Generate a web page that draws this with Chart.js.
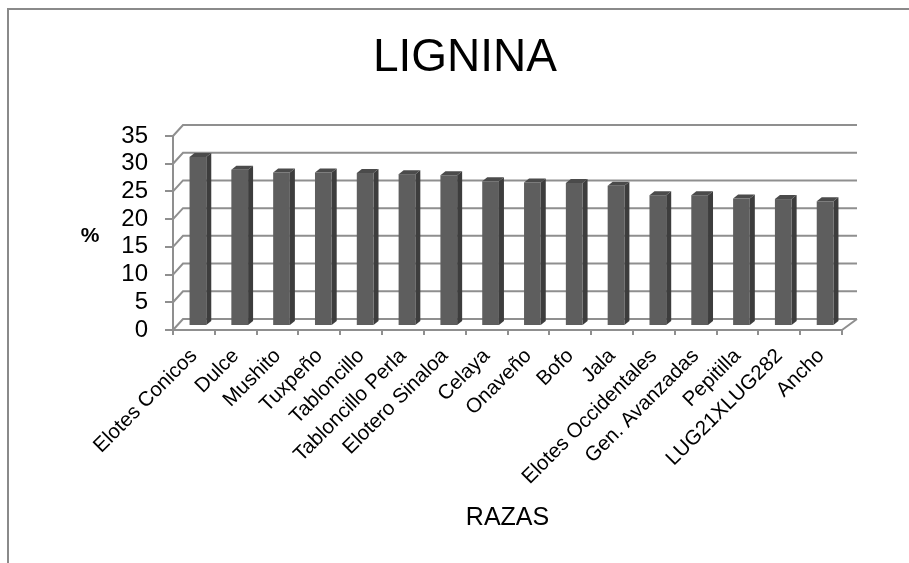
<!DOCTYPE html>
<html>
<head>
<meta charset="utf-8">
<script src="https://cdn.jsdelivr.net/npm/chart.js@4"></script>
<style>
  html, body { margin: 0; padding: 0; background: #fff; }
</style>
</head>
<body>
<canvas id="lignina" width="909" height="563"></canvas>
<script>
const razas = ["Elotes Conicos", "Dulce", "Mushito", "Tuxpeño", "Tabloncillo", "Tabloncillo Perla",
  "Elotero Sinaloa", "Celaya", "Onaveño", "Bofo", "Jala", "Elotes Occidentales",
  "Gen. Avanzadas", "Pepitilla", "LUG21XLUG282", "Ancho"];
const lignina = [30.5, 28.2, 27.7, 27.7, 27.6, 27.4, 27.2, 26.1, 25.9, 25.8, 25.3, 23.6, 23.6, 23.0, 22.9, 22.5];
const yTicks = [0, 5, 10, 15, 20, 25, 30, 35];

const FONT = "'Liberation Sans', Arial, sans-serif";
const GRID = "#8f8f8f";
Chart.defaults.font.family = FONT;

// fake 3d: back wall, side diagonals and boxed bars
const box3d = {
  id: "box3d",
  beforeDraw(chart) {
    const ctx = chart.ctx;
    ctx.save();
    ctx.fillStyle = "#fff";
    ctx.fillRect(0, 0, chart.width, chart.height);
    ctx.strokeStyle = "#8a8a8a";
    ctx.lineWidth = 2;
    ctx.beginPath();
    ctx.moveTo(8, chart.height);
    ctx.lineTo(8, 9);
    ctx.lineTo(chart.width, 9);
    ctx.stroke();
    ctx.restore();
  },
  beforeDatasetsDraw(chart) {
    const ctx = chart.ctx;
    const a = chart.chartArea;
    const y = chart.scales.y;
    ctx.save();
    ctx.strokeStyle = GRID;
    ctx.lineWidth = 2;
    ctx.beginPath();
    yTicks.forEach(v => {
      const py = y.getPixelForValue(v);
      ctx.moveTo(a.left, py);
      ctx.lineTo(a.left + 10, py - 11);
      ctx.lineTo(a.right + 15, py - 11);
    });
    ctx.moveTo(a.right, a.bottom);
    ctx.lineTo(a.right + 15, a.bottom - 11);
    ctx.stroke();
    ctx.restore();
  },
  afterDatasetsDraw(chart) {
    const ctx = chart.ctx;
    const dx = 4, dy = -4, sx = 5, sy = -4;
    ctx.save();
    chart.getDatasetMeta(0).data.forEach(bar => {
      const p = bar.getProps(["x", "y", "base", "width"], true);
      const l = p.x - p.width / 2 + dx;
      const r = p.x + p.width / 2 + dx;
      const t = p.y + dy;
      const b = p.base + dy;
      ctx.fillStyle = "#3d3d3d";
      ctx.beginPath();
      ctx.moveTo(r, t); ctx.lineTo(r + sx, t + sy); ctx.lineTo(r + sx, b + sy); ctx.lineTo(r, b);
      ctx.closePath(); ctx.fill();
      ctx.fillStyle = "#4b4b4b";
      ctx.beginPath();
      ctx.moveTo(l, t); ctx.lineTo(r, t); ctx.lineTo(r + sx, t + sy); ctx.lineTo(l + sx, t + sy);
      ctx.closePath(); ctx.fill();
      ctx.fillStyle = "#5e5e5e";
      ctx.fillRect(l, t, r - l, b - t);
    });
    ctx.restore();
  },
  afterDraw(chart) {
    const ctx = chart.ctx;
    ctx.save();
    ctx.fillStyle = "#000";
    ctx.textAlign = "center";
    ctx.textBaseline = "middle";
    ctx.font = "46px " + FONT;
    ctx.fillText("LIGNINA", 465, 58);
    ctx.font = "bold 21px " + FONT;
    ctx.fillText("%", 90, 236);
    ctx.restore();
  }
};

new Chart(document.getElementById("lignina"), {
  type: "bar",
  data: {
    labels: razas,
    datasets: [{
      label: "Lignina",
      data: lignina,
      backgroundColor: "rgba(0,0,0,0)",
      borderWidth: 0,
      categoryPercentage: 1,
      barPercentage: 0.4
    }]
  },
  options: {
    responsive: false,
    animation: false,
    devicePixelRatio: 1,
    layout: { padding: { top: 136, right: 67, left: 0, bottom: 0 } },
    plugins: {
      legend: { display: false },
      tooltip: { enabled: false },
      title: { display: false }
    },
    scales: {
      x: {
        grid: { offset: true, drawOnChartArea: false, color: GRID, lineWidth: 2, tickLength: 5 },
        border: { color: GRID, width: 2 },
        ticks: { autoSkip: false, minRotation: 45, maxRotation: 45, color: "#000", font: { size: 20.5 }, padding: 9 },
        title: { display: true, text: "RAZAS", color: "#000", font: { size: 25 }, padding: { top: 0, bottom: 30 } },
        afterFit(s) { s.height = 233; }
      },
      y: {
        min: 0,
        max: 35,
        ticks: { stepSize: 5, autoSkip: false, color: "#000", font: { size: 24 }, padding: 17 },
        grid: { drawOnChartArea: false, color: GRID, lineWidth: 2, tickLength: 8 },
        border: { color: GRID, width: 2 },
        afterFit(s) { s.width = 173; }
      }
    }
  },
  plugins: [box3d]
});
</script>
</body>
</html>
